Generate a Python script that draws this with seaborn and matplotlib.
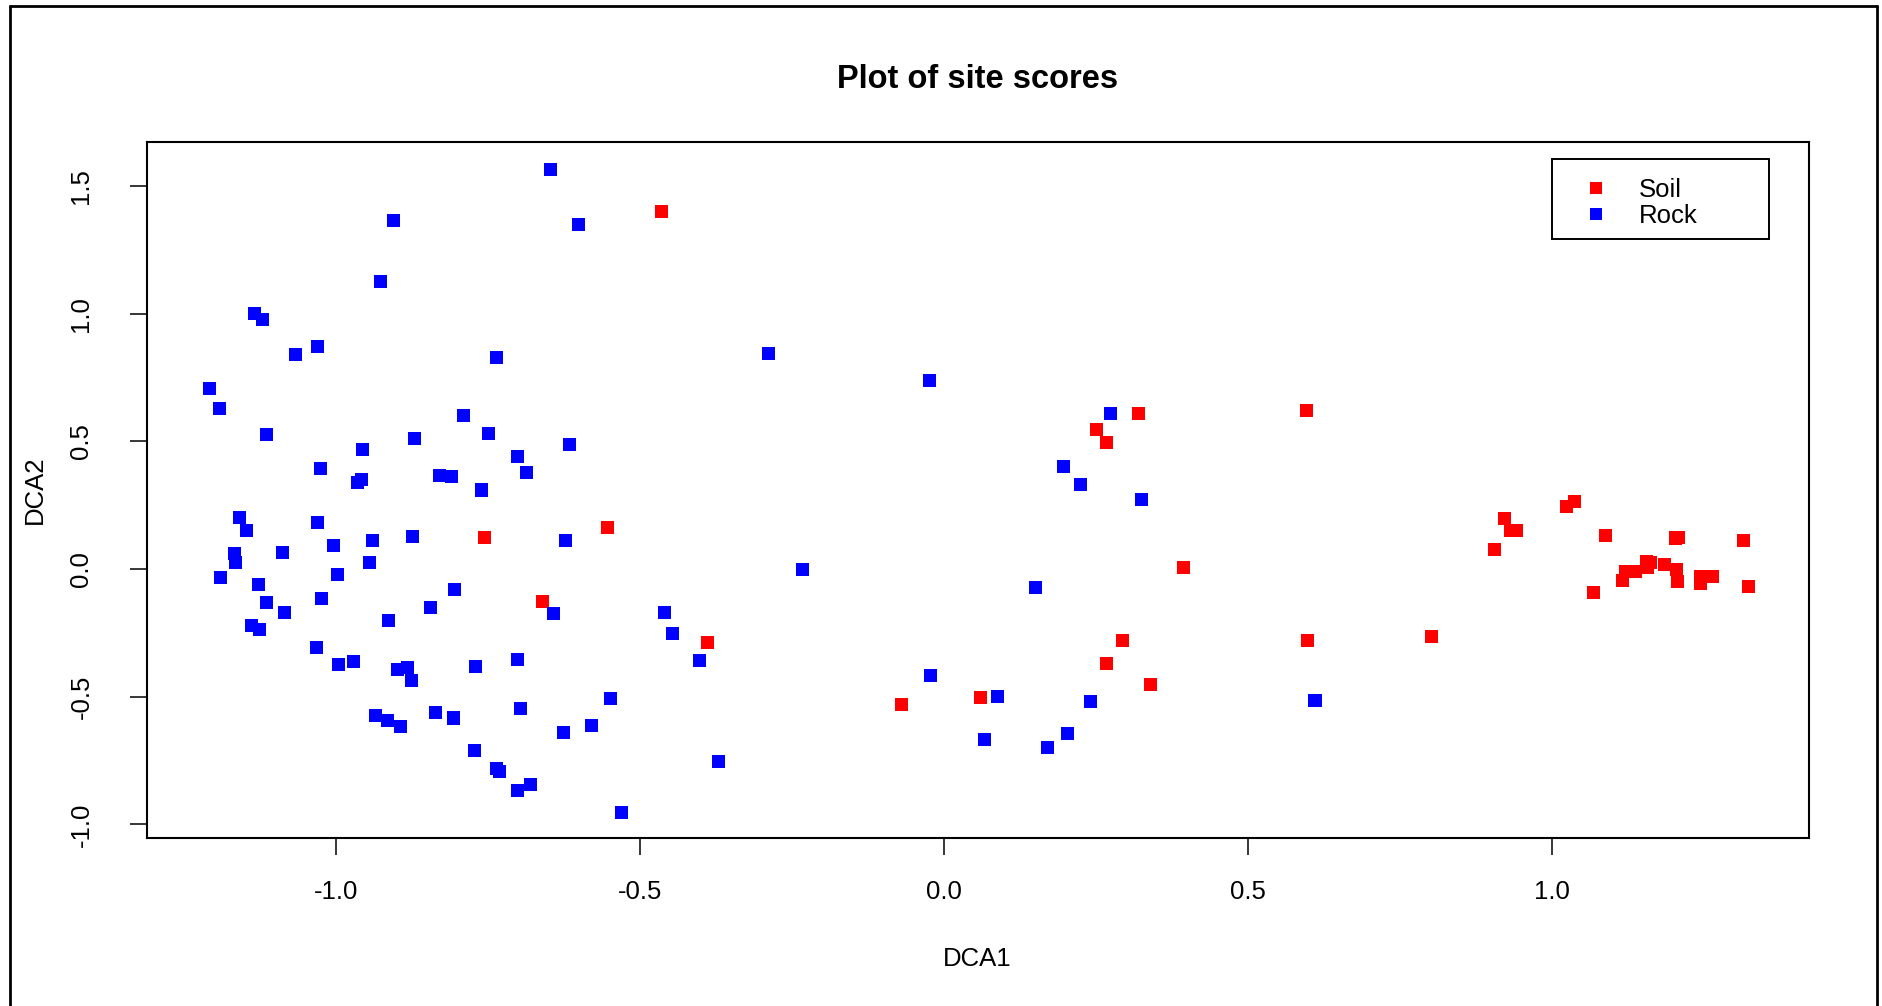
import matplotlib
matplotlib.use("Agg")
import matplotlib.pyplot as plt
from matplotlib.lines import Line2D
from matplotlib.patches import Rectangle
import seaborn as sns
import pandas as pd

# ---- data (DCA site scores) ----
soil_x = [-0.465, -0.756, -0.553, -0.660, -0.389, -0.070, 0.060,
          0.251, 0.267, 0.320, 0.267, 0.293, 0.339, 0.394, 0.596, 0.597,
          0.801, 0.905, 0.921, 0.931, 0.942, 1.023, 1.037, 1.087, 1.068,
          1.116, 1.120, 1.137, 1.155, 1.162, 1.157, 1.184, 1.202, 1.207,
          1.204, 1.206, 1.244, 1.244, 1.263, 1.314, 1.322]
soil_y = [1.401, 0.125, 0.164, -0.126, -0.286, -0.529, -0.502,
          0.548, 0.497, 0.610, -0.368, -0.278, -0.451, 0.008, 0.622, -0.278,
          -0.263, 0.078, 0.200, 0.151, 0.152, 0.246, 0.266, 0.133, -0.090,
          -0.043, -0.008, -0.008, 0.031, 0.027, 0.008, 0.019, 0.122, 0.125,
          0.000, -0.050, -0.029, -0.055, -0.028, 0.113, -0.067]

rock_x = [-0.647, -0.905, -0.601, -0.927, -1.134, -1.120, -1.066, -1.030,
          -0.736, -1.208, -1.191, -1.114, -0.790, -0.749, -0.871, -0.956,
          -0.616, -0.701, -0.686, -1.025, -0.958, -0.964, -0.830, -0.810,
          -0.761, -1.158, -1.147, -1.030, -1.004, -0.940, -0.874, -0.622,
          -1.167, -1.165, -1.088, -0.945, -0.997, -1.190, -1.127, -1.114,
          -1.084, -1.023, -1.139, -1.125, -0.913, -0.844, -0.805, -0.642,
          -1.032, -0.996, -0.971, -0.899, -0.882, -0.876, -0.770, -0.701,
          -0.935, -0.915, -0.894, -0.836, -0.807, -0.696, -0.626, -0.579,
          -0.772, -0.736, -0.731, -0.701, -0.680, -0.289, -0.024, -0.233,
          0.150, -0.460, -0.447, -0.402, -0.548, -0.371, -0.530, -0.022,
          0.088, 0.066, 0.274, 0.196, 0.224, 0.325, 0.241, 0.610, 0.203,
          0.170]
rock_y = [1.566, 1.366, 1.350, 1.127, 1.002, 0.978, 0.842, 0.873,
          0.830, 0.709, 0.630, 0.528, 0.603, 0.532, 0.512, 0.470,
          0.489, 0.442, 0.379, 0.395, 0.352, 0.340, 0.368, 0.364,
          0.310, 0.203, 0.152, 0.184, 0.094, 0.113, 0.129, 0.113,
          0.062, 0.027, 0.066, 0.027, -0.020, -0.032, -0.059, -0.130,
          -0.169, -0.114, -0.220, -0.235, -0.200, -0.149, -0.079, -0.173,
          -0.306, -0.372, -0.361, -0.392, -0.384, -0.435, -0.380, -0.353,
          -0.572, -0.591, -0.615, -0.560, -0.583, -0.544, -0.638, -0.611,
          -0.709, -0.780, -0.791, -0.866, -0.842, 0.845, 0.740, 0.000,
          -0.071, -0.169, -0.251, -0.356, -0.505, -0.752, -0.952, -0.416,
          -0.497, -0.666, 0.610, 0.403, 0.332, 0.274, -0.517, -0.513, -0.642,
          -0.697]

groups = ["Soil", "Rock"]
colors = {"Soil": "#FF0000", "Rock": "#0000FF"}
x_ticks = [-1.0, -0.5, 0.0, 0.5, 1.0]
x_tick_labels = ["-1.0", "-0.5", "0.0", "0.5", "1.0"]
y_ticks = [-1.0, -0.5, 0.0, 0.5, 1.0, 1.5]
y_tick_labels = ["-1.0", "-0.5", "0.0", "0.5", "1.0", "1.5"]

df = pd.DataFrame({
    "DCA1": soil_x + rock_x,
    "DCA2": soil_y + rock_y,
    "Group": ["Soil"] * len(soil_x) + ["Rock"] * len(rock_x),
})

sns.set_style("ticks")
plt.rcParams["font.family"] = ["Liberation Sans", "DejaVu Sans"]
for k in ["text.color", "axes.labelcolor", "xtick.color", "ytick.color",
          "axes.edgecolor"]:
    plt.rcParams[k] = "black"

W, H = 1883, 1006
fig = plt.figure(figsize=(W / 100, H / 100), dpi=100)
fig.patch.set_facecolor("white")
L, R, T, B = 146.5, 1808.6, 141.7, 838.0
ax = fig.add_axes([L / W, 1 - B / H, (R - L) / W, (B - T) / H])

ms = 9.4
sns.scatterplot(data=df, x="DCA1", y="DCA2", hue="Group", hue_order=groups,
                palette=colors, marker="s", s=ms ** 2, linewidth=0,
                legend=False, ax=ax, zorder=3)

ax.set_xlim(-1.311, 1.4215)
ax.set_ylim(-1.053, 1.674)
ax.set_xticks(x_ticks)
ax.set_xticklabels(x_tick_labels)
ax.set_yticks(y_ticks)
ax.set_yticklabels(y_tick_labels, rotation=90, va="center")

for sp in ax.spines.values():
    sp.set_visible(True)
    sp.set_linewidth(1.5)
    sp.set_color("black")

ax.tick_params(axis="both", direction="out", length=12.2, width=1.1,
               color="black", labelcolor="black", labelsize=18.5)
ax.tick_params(axis="x", pad=18)
ax.tick_params(axis="y", pad=26)
ax.set_xlabel("DCA1", fontsize=18.5, labelpad=31, color="black")
ax.set_ylabel("DCA2", fontsize=18.5, labelpad=16, color="black")
ax.set_title("Plot of site scores", fontsize=23.5, fontweight="bold", pad=39,
             color="black")

# legend (R style box)
handles = [Line2D([], [], marker="s", linestyle="", color=colors[g],
                  markersize=9.0, markeredgewidth=0) for g in groups]
fs = 18.5
fspx = fs * 100 / 72
lx0, ly0, lx1, ly1 = 1551.7, 159.0, 1769.3, 239.3
hl = 2 * (1595.5 - lx0) / fspx
ax.legend(handles, groups, loc="upper left",
          bbox_to_anchor=(lx0 / W, 1 - 177.5 / H), bbox_transform=fig.transFigure,
          frameon=False, borderpad=0, borderaxespad=0, handlelength=hl,
          handletextpad=0.0, labelspacing=0.08, fontsize=fs)
fig.add_artist(Rectangle((lx0 / W, 1 - ly1 / H), (lx1 - lx0) / W, (ly1 - ly0) / H,
                         transform=fig.transFigure, fill=False,
                         edgecolor="black", linewidth=1.4, zorder=5))

# outer device frame (left, top, right)
for xs, ys in [([10 / W, 10 / W], [0, 1 - 6 / H]),
               ([10 / W, 1877 / W], [1 - 6 / H, 1 - 6 / H]),
               ([1877 / W, 1877 / W], [0, 1 - 6 / H])]:
    fig.add_artist(Line2D(xs, ys, transform=fig.transFigure, color="black",
                          linewidth=2.0))

fig.savefig("out.png", dpi=100, facecolor="white")
